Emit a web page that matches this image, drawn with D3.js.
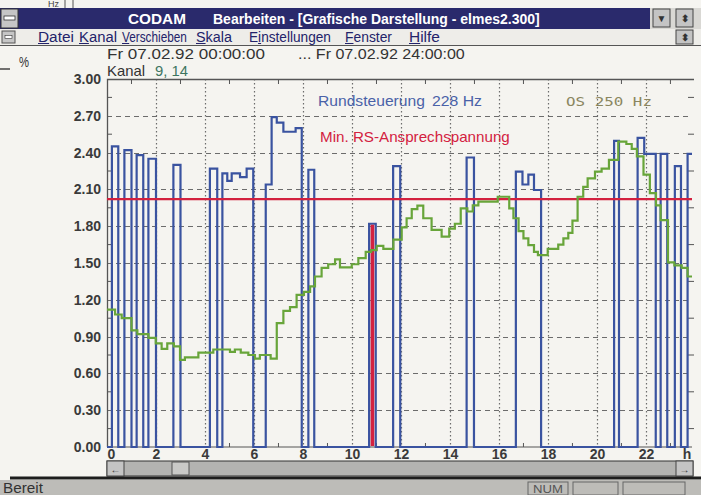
<!DOCTYPE html>
<html>
<head>
<meta charset="utf-8">
<script src="https://cdn.jsdelivr.net/npm/d3@7"></script>
<style>
body{margin:0;background:#f5f4f0;}
svg{display:block;font-family:'Liberation Sans',Arial,sans-serif;}
</style>
</head>
<body>
<svg id="chart" width="701" height="495"></svg>
<script>
// Kanal 9 : Rundsteuerung 228 Hz  (hour where the level changes, level in %)
const blueT = [0, 0.2, 0.46, 0.71, 1.0, 1.21, 1.48, 1.69, 2.0, 2.71, 3.0, 4.2, 4.5,
	4.71, 4.91, 5.09, 5.43, 5.7, 5.97, 6.48, 6.72, 6.93, 7.2, 7.7, 7.95, 8.22, 8.46,
	10.7, 10.97, 11.68, 11.97, 14.68, 14.98, 16.69, 16.96, 17.2, 17.43, 17.72,
	20.7, 20.9, 21.66, 21.93, 22.4, 22.6, 22.87, 23.18, 23.43, 23.7];
const blueV = [0, 2.45, 0, 2.42, 0, 2.38, 0, 2.35, 0, 2.30, 0, 2.27, 0,
	2.23, 2.17, 2.23, 2.20, 2.27, 0, 2.14, 2.69, 2.645, 2.57, 2.60, 0, 2.26, 0,
	1.82, 0, 2.29, 0, 2.36, 0, 2.245, 2.14, 2.22, 2.095, 0,
	2.495, 0, 2.52, 2.39, 0, 2.39, 0, 2.29, 0, 2.39];
const markedStart = 10.7; // pulse drawn in red

// Kanal 14 : OS 250 Hz
const greenT = [0, 0.33, 0.6, 1.0, 1.24, 1.69, 1.99, 2.23, 2.46, 2.73, 2.98, 3.18, 3.73,
	4.34, 5.02, 5.22, 5.46, 5.77, 6.04, 6.24, 6.68, 6.93, 7.2, 7.47, 7.74, 8.04, 8.29,
	8.49, 8.76, 9.03, 9.31, 9.51, 9.99, 10.26, 10.56, 10.78, 11.01, 11.28, 11.69, 12.03,
	12.23, 12.44, 12.67, 12.91, 13.25, 13.66, 13.97, 14.2, 14.44, 14.71, 14.93, 15.16,
	15.95, 16.42, 16.59, 16.8, 17.0, 17.2, 17.43, 17.59, 17.99, 18.42, 18.63, 18.83,
	19.0, 19.21, 19.44, 19.62, 19.92, 20.19, 20.49, 20.87, 21.2, 21.42, 21.63, 21.9,
	22.16, 22.41, 22.6, 22.9, 23.16, 23.46, 23.7];
const greenV = [1.12, 1.08, 1.05, 0.95, 0.92, 0.89, 0.845, 0.80, 0.845, 0.82, 0.71, 0.73, 0.77,
	0.795, 0.775, 0.795, 0.77, 0.75, 0.72, 0.75, 0.72, 1.01, 1.11, 1.14, 1.24, 1.265, 1.31,
	1.39, 1.46, 1.49, 1.53, 1.465, 1.49, 1.54, 1.59, 1.605, 1.64, 1.615, 1.69, 1.79,
	1.865, 1.94, 1.967, 1.865, 1.77, 1.715, 1.78, 1.82, 1.945, 1.92, 1.97, 2.00,
	2.04, 1.945, 1.865, 1.76, 1.70, 1.645, 1.59, 1.565, 1.615, 1.65, 1.70, 1.745,
	1.845, 2.04, 2.12, 2.19, 2.245, 2.27, 2.34, 2.49, 2.47, 2.43, 2.37, 2.22,
	2.07, 1.97, 1.85, 1.505, 1.48, 1.46, 1.39];

const minLevel = 2.02; // Min. RS-Ansprechspannung

const yTicks = [0, 0.3, 0.6, 0.9, 1.2, 1.5, 1.8, 2.1, 2.4, 2.7, 3.0];
const yMinor = [0.15, 0.45, 0.75, 1.05, 1.35, 1.65, 1.95, 2.25, 2.55, 2.85];
const xTicks = [0, 2, 4, 6, 8, 10, 12, 14, 16, 18, 20, 22];
const xMinor = [1, 3, 5, 7, 9, 11, 13, 15, 17, 19, 21, 23];

const menuLabels = ['Datei', 'Kanal', 'Verschieben', 'Skala', 'Einstellungen', 'Fenster', 'Hilfe'];
const menuKeys = [0, 0, 0, 0, 1, 0, 0]; // underlined letter

const BLUE = '#3a53a0', GREEN = '#68a53a', RED = '#d3213f';

const svg = d3.select('#chart');
const W = 701, H = 495;
const pl = {l:107, r:692, t:79, b:447};

const x = d3.scaleLinear().domain([0, 23.88]).range([pl.l, pl.r]);
const y = d3.scaleLinear().domain([0, 3]).range([pl.b, pl.t]);

//text squeezed to a given width (scaled, so its box shrinks too)
function place(g, str, x0, y0, w, attrs){
	const t = g.append('text').attr('x', 0).attr('y', 0).text(str);
	Object.entries(attrs || {}).forEach(([k,v]) => t.attr(k, v));
	const s = w ? w / t.node().getComputedTextLength() : 1;
	t.attr('transform', `translate(${x0},${y0}) scale(${s},1)`);
	t.datum(s);
	return t;
}

svg.append('rect').attr('width', W).attr('height', H).attr('fill', '#f5f4f0');

// ---- window chrome ----
const chrome = svg.append('g');
chrome.append('text').attr('x', 48).attr('y', 7).attr('font-size', 9).attr('fill', '#444').text('Hz');
chrome.append('line').attr('x1', 65).attr('x2', 65).attr('y1', 0).attr('y2', 8).attr('stroke', '#555');
chrome.append('line').attr('x1', 73).attr('x2', 73).attr('y1', 0).attr('y2', 8).attr('stroke', '#555');

chrome.append('rect').attr('x', 0).attr('y', 8).attr('width', 650).attr('height', 21).attr('fill', '#2a2a6c');
chrome.append('rect').attr('x', 1).attr('y', 9).attr('width', 17).attr('height', 19).attr('fill', '#c6c6c6').attr('stroke', '#333');
chrome.append('rect').attr('x', 4).attr('y', 16).attr('width', 11).attr('height', 4).attr('fill', '#fff').attr('stroke', '#333').attr('stroke-width', 0.8);
place(chrome, 'CODAM', 128, 24, 58, {'font-size':15, 'font-weight':'bold', fill:'#fff'});
place(chrome, 'Bearbeiten - [Grafische Darstellung - elmes2.300]', 213, 24, 327, {'font-size':15, 'font-weight':'bold', fill:'#fff'});

function button(g, bx, by, bw, bh, glyph){
	g.append('rect').attr('x', bx).attr('y', by).attr('width', bw).attr('height', bh)
		.attr('fill', '#c4c4c4').attr('stroke', '#444');
	g.append('text').attr('x', bx + bw/2).attr('y', by + bh/2 + 4).attr('text-anchor', 'middle')
		.attr('font-size', 10).attr('font-weight', 'bold').attr('fill', '#333').text(glyph);
}
chrome.append('rect').attr('x', 650).attr('y', 8).attr('width', 51).attr('height', 21).attr('fill', '#d9d8d4');
button(chrome, 653, 9, 17, 18, '▼');
button(chrome, 676, 9, 17, 18, '⬍');

// menu bar
chrome.append('rect').attr('x', 0).attr('y', 29).attr('width', W).attr('height', 16).attr('fill', '#eeede9');
chrome.append('line').attr('x1', 0).attr('x2', W).attr('y1', 45.5).attr('y2', 45.5).attr('stroke', '#555');
chrome.append('rect').attr('x', 2).attr('y', 31).attr('width', 13).attr('height', 12).attr('fill', '#c6c6c6').attr('stroke', '#555');
chrome.append('rect').attr('x', 5).attr('y', 35.5).attr('width', 7).attr('height', 3).attr('fill', '#fff').attr('stroke', '#333').attr('stroke-width', 0.6);
button(chrome, 676, 30, 17, 14, '⬍');

const menuX = [38, 79, 122, 196, 249, 345, 409];
const menuW = [36, 38, 65, 36, 82, 47, 31];
menuLabels.forEach((m, i) => {
	const t = place(chrome, m, menuX[i], 42, menuW[i], {'font-size':15, fill:'#23236a'});
	const s = t.datum();
	const b = t.node().getExtentOfChar(menuKeys[i]);
	chrome.append('line').attr('x1', menuX[i] + b.x * s).attr('x2', menuX[i] + (b.x + b.width) * s)
		.attr('y1', 43.5).attr('y2', 43.5).attr('stroke', '#23236a');
});

// header
const head = svg.append('g').attr('fill', '#333').attr('font-size', 14);
place(head, 'Fr  07.02.92   00:00:00', 107, 59, 158);
place(head, '... Fr  07.02.92  24:00:00', 298, 59, 167);
place(head, '%', 19, 67, 10);
head.append('line').attr('x1', 0).attr('x2', 10).attr('y1', 69).attr('y2', 69).attr('stroke', '#444').attr('stroke-width', 1.5);
place(head, 'Kanal', 107, 76, 38);
place(head, '9, 14', 155, 76, 33, {fill:'#3d7560'});

// ---- plot ----
const grid = svg.append('g');
grid.selectAll('.hgrid').data(yTicks.filter(d => d > 0 && d < 3)).enter()
	.append('line').attr('class', 'hgrid')
	.attr('x1', pl.l).attr('x2', pl.r)
	.attr('y1', d => Math.round(y(d)) + 0.5).attr('y2', d => Math.round(y(d)) + 0.5)
	.attr('stroke', '#6c6c6c').attr('stroke-dasharray', '5,4');
grid.selectAll('.vgrid').data(xTicks.filter(d => d > 0)).enter()
	.append('line').attr('class', 'vgrid')
	.attr('x1', d => Math.round(x(d)) + 0.5).attr('x2', d => Math.round(x(d)) + 0.5)
	.attr('y1', pl.t).attr('y2', pl.b)
	.attr('stroke', '#6c6c6c').attr('stroke-dasharray', '1.5,2.5').attr('stroke-width', 1.2);

// minor ticks
const tk = svg.append('g').attr('stroke', '#555');
tk.selectAll('.tl').data(yMinor).enter().append('line')
	.attr('x1', pl.l).attr('x2', pl.l + 5).attr('y1', d => y(d)).attr('y2', d => y(d));
tk.selectAll('.tr').data(yMinor).enter().append('line')
	.attr('x1', pl.r - 4).attr('x2', pl.r + 2).attr('y1', d => y(d)).attr('y2', d => y(d));
tk.selectAll('.tt').data(xMinor).enter().append('line')
	.attr('x1', d => x(d)).attr('x2', d => x(d)).attr('y1', pl.t).attr('y2', pl.t + 5);
tk.selectAll('.tb').data(xMinor).enter().append('line')
	.attr('x1', d => x(d)).attr('x2', d => x(d)).attr('y1', pl.b).attr('y2', pl.b - 4);

// frame
svg.append('path')
	.attr('d', `M${pl.l + 0.5},${pl.b}V${pl.t + 0.5}H${pl.r + 2}`)
	.attr('fill', 'none').attr('stroke', '#555').attr('stroke-width', 1.3);
svg.append('line').attr('x1', pl.l).attr('x2', pl.r).attr('y1', pl.b).attr('y2', pl.b).attr('stroke', '#555');

// axes
const axisY = d3.axisLeft(y).tickValues(yTicks).tickFormat(d3.format('.2f')).tickSize(0).tickPadding(6);
const gy = svg.append('g').attr('transform', `translate(${pl.l},0)`).call(axisY);
gy.select('.domain').remove();
gy.selectAll('text').attr('font-family', "'Liberation Sans',Arial,sans-serif")
	.attr('font-size', 14).attr('font-weight', 'bold').attr('fill', '#3a3a3a');

const axisX = d3.axisBottom(x).tickValues(xTicks).tickFormat(d => d).tickSize(0).tickPadding(2);
const gx = svg.append('g').attr('transform', `translate(0,${pl.b})`).call(axisX);
gx.select('.domain').remove();
gx.selectAll('text').attr('font-family', "'Liberation Sans',Arial,sans-serif")
	.attr('font-size', 14).attr('font-weight', 'bold').attr('fill', '#3a3a3a');
gx.selectAll('.tick').filter(d => d === 0).select('text').attr('text-anchor', 'start').attr('dx', 0);
gx.append('text').attr('x', 687).attr('y', 2).attr('dy', '0.71em').attr('text-anchor', 'middle')
	.attr('font-size', 14).attr('font-weight', 'bold').attr('fill', '#3a3a3a').text('h');

// series
const end = x.domain()[1];
const stepLine = d3.line().x(d => x(d[0])).y(d => y(d[1])).curve(d3.curveStepAfter);
const bluePts = blueT.map((t, i) => [t, blueV[i]]).concat([[end, blueV[blueV.length - 1]]]);
const greenPts = greenT.map((t, i) => [t, greenV[i]]).concat([[end, greenV[greenV.length - 1]]]);

svg.append('path').datum(bluePts).attr('d', stepLine)
	.attr('fill', 'none').attr('stroke', BLUE).attr('stroke-width', 2.2);

const mi = blueT.indexOf(markedStart);
svg.append('rect')
	.attr('x', x(blueT[mi]) + 1.5).attr('width', x(blueT[mi + 1]) - x(blueT[mi]) - 3)
	.attr('y', y(blueV[mi]) + 1).attr('height', y(0) - y(blueV[mi]) - 2)
	.attr('fill', RED);

svg.append('line').attr('x1', pl.l).attr('x2', pl.r)
	.attr('y1', y(minLevel)).attr('y2', y(minLevel))
	.attr('stroke', RED).attr('stroke-width', 2.2);

svg.append('path').datum(greenPts).attr('d', stepLine)
	.attr('fill', 'none').attr('stroke', GREEN).attr('stroke-width', 2.2);

// in-plot labels
place(svg, 'Rundsteuerung', 318, 106, 107, {'font-size':14, fill:'#4a62a8'});
place(svg, '228 Hz', 432, 106, 50, {'font-size':14, fill:'#4a62a8'});
place(svg, 'Min. RS-Ansprechspannung', 320, 142, 190, {'font-size':14, fill:RED});
place(svg, 'OS  250  Hz', 566, 106, 86, {'font-size':13, fill:'#8a8660', 'font-family':"'DejaVu Sans Mono',monospace"});

// ---- scrollbar & status bar ----
const bot = svg.append('g');
bot.append('rect').attr('x', 107).attr('y', 461).attr('width', 586).attr('height', 15)
	.attr('fill', '#b3b3b1').attr('stroke', '#333');
button(bot, 107, 461, 17, 15, '←');
bot.append('rect').attr('x', 172).attr('y', 462).attr('width', 17).attr('height', 13)
	.attr('fill', '#c9c9c7').attr('stroke', '#555');
button(bot, 676, 461, 17, 15, '→');
bot.append('line').attr('x1', 10).attr('x2', W).attr('y1', 478).attr('y2', 478).attr('stroke', '#1d1d1d').attr('stroke-width', 3);
bot.append('rect').attr('x', 0).attr('y', 480).attr('width', W).attr('height', 15).attr('fill', '#bdbcb8');
place(bot, 'Bereit', 3, 493, 40, {'font-size':14, fill:'#333'});
[[528, 40], [573, 45], [623, 62]].forEach(([bx, bw]) => {
	bot.append('rect').attr('x', bx).attr('y', 482).attr('width', bw).attr('height', 13)
		.attr('fill', 'none').attr('stroke', '#666');
});
place(bot, 'NUM', 533, 493, 30, {'font-size':11, fill:'#555'});
</script>
</body>
</html>
